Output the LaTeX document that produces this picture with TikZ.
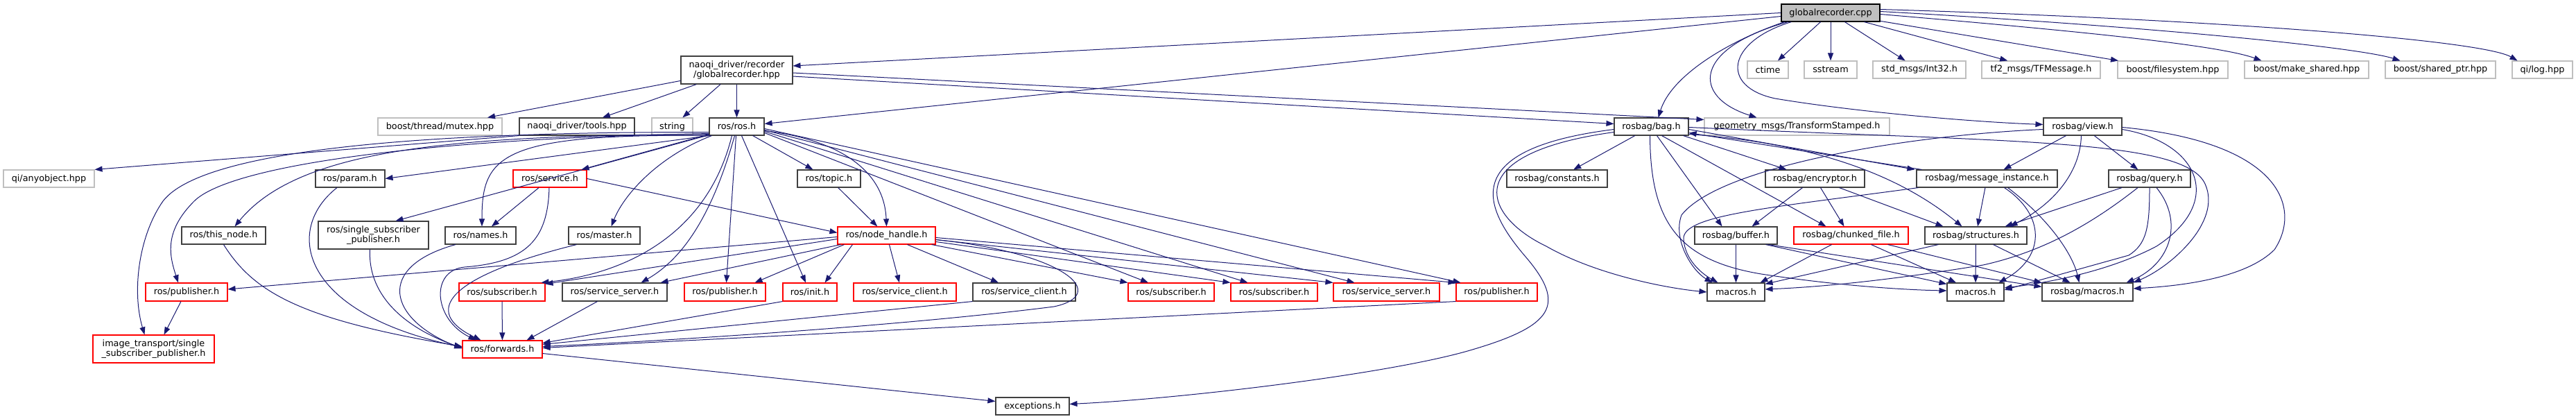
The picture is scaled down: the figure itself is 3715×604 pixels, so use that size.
\documentclass[tikz,border=0pt]{standalone}
\usepackage{fontspec}
\setmainfont{DejaVu Sans}
\usetikzlibrary{arrows.meta}
\definecolor{edgecol}{HTML}{191970}
\definecolor{blkcol}{HTML}{404040}
\definecolor{grycol}{HTML}{BFBFBF}
\definecolor{redcol}{HTML}{FF0000}
\newcommand{\mynode}[7]{\node[#6, minimum width={(#4-#2)*1pt}, minimum height={(#5-#3)*1pt}] (#1) at ({(#2+#4)/2},{(#3+#5)/2}) {#7};}
\tikzset{
  nbase/.style={rectangle, inner sep=0pt, align=center, fill=white, line width=1.1pt, font=\fontsize{12.8}{13.8}\selectfont},
  blk/.style={nbase, draw=blkcol},
  gry/.style={nbase, draw=grycol},
  redb/.style={nbase, draw=redcol},
  rootbox/.style={nbase, draw=black, fill=grycol},
  dep/.style={draw=edgecol, line width=1pt, -{Triangle[length=11pt,width=8pt]}, fill=none}
}
\begin{document}
\begin{tikzpicture}[x=1pt,y=-1pt]
\useasboundingbox (0,0) rectangle (3715,604);
% row 0/1
\mynode{cpp}{2569}{6}{2711}{31}{rootbox}{globalrecorder.cpp}
\mynode{hpp}{982}{81}{1143}{121}{blk}{naoqi\_driver/recorder\\/globalrecorder.hpp}
\mynode{ctime}{2520}{88}{2579}{113}{gry}{ctime}
\mynode{sstream}{2602}{88}{2678}{113}{gry}{sstream}
\mynode{int32}{2701}{88}{2835}{113}{gry}{std\_msgs/Int32.h}
\mynode{tfmsg}{2858}{88}{3029}{113}{gry}{tf2\_msgs/TFMessage.h}
\mynode{fs}{3054}{88}{3213}{113}{gry}{boost/filesystem.hpp}
\mynode{mks}{3237}{88}{3416}{113}{gry}{boost/make\_shared.hpp}
\mynode{shp}{3440}{88}{3599}{113}{gry}{boost/shared\_ptr.hpp}
\mynode{qilog}{3623}{88}{3710}{113}{gry}{qi/log.hpp}
% row 2
\mynode{mutex}{545}{170}{724}{195}{gry}{boost/thread/mutex.hpp}
\mynode{tools}{749}{170}{915}{195}{blk}{naoqi\_driver/tools.hpp}
\mynode{string}{940}{170}{999}{195}{gry}{string}
\mynode{rosh}{1023}{170}{1102}{195}{blk}{ros/ros.h}
\mynode{bag}{2328}{170}{2435}{195}{blk}{rosbag/bag.h}
\mynode{geom}{2458}{170}{2725}{195}{gry}{geometry\_msgs/TransformStamped.h}
\mynode{view}{2947}{170}{3060}{195}{blk}{rosbag/view.h}
% row 3
\mynode{qiany}{5}{245}{136}{270}{gry}{qi/anyobject.hpp}
\mynode{param}{455}{245}{555}{270}{blk}{ros/param.h}
\mynode{service}{740}{245}{846}{270}{redb}{ros/service.h}
\mynode{topic}{1150}{245}{1241}{270}{blk}{ros/topic.h}
\mynode{const}{2173}{245}{2318}{270}{blk}{rosbag/constants.h}
\mynode{encr}{2546}{245}{2689}{270}{blk}{rosbag/encryptor.h}
\mynode{msgi}{2764}{245}{2967}{270}{blk}{rosbag/message\_instance.h}
\mynode{query}{3041}{245}{3159}{270}{blk}{rosbag/query.h}
% row 4
\mynode{thisn}{262}{327}{383}{352}{blk}{ros/this\_node.h}
\mynode{ssp}{459}{319}{618}{359}{blk}{ros/single\_subscriber\\\_publisher.h}
\mynode{names}{642}{327}{744}{352}{blk}{ros/names.h}
\mynode{master}{820}{327}{923}{352}{blk}{ros/master.h}
\mynode{nh}{1208}{327}{1349}{352}{redb}{ros/node\_handle.h}
\mynode{buffer}{2444}{327}{2563}{352}{blk}{rosbag/buffer.h}
\mynode{chunk}{2587}{327}{2752}{352}{redb}{rosbag/chunked\_file.h}
\mynode{struct}{2776}{327}{2923}{352}{blk}{rosbag/structures.h}
% row 5
\mynode{pubL}{210}{408}{328}{434}{redb}{ros/publisher.h}
\mynode{sub1}{662}{408}{786}{434}{redb}{ros/subscriber.h}
\mynode{ssrv1}{811}{408}{962}{434}{blk}{ros/service\_server.h}
\mynode{pub1}{987}{408}{1104}{434}{redb}{ros/publisher.h}
\mynode{init}{1129}{408}{1207}{434}{redb}{ros/init.h}
\mynode{scl1}{1231}{408}{1379}{434}{redb}{ros/service\_client.h}
\mynode{scl2}{1403}{408}{1551}{434}{blk}{ros/service\_client.h}
\mynode{sub2}{1627}{408}{1751}{434}{redb}{ros/subscriber.h}
\mynode{sub3}{1775}{408}{1900}{434}{redb}{ros/subscriber.h}
\mynode{ssrv2}{1923}{408}{2076}{434}{redb}{ros/service\_server.h}
\mynode{pub2}{2100}{408}{2217}{434}{redb}{ros/publisher.h}
\mynode{mac1}{2462}{408}{2545}{434}{blk}{macros.h}
\mynode{mac2}{2808}{408}{2890}{434}{blk}{macros.h}
\mynode{rbmac}{2945}{408}{3076}{434}{blk}{rosbag/macros.h}
% row 6/7
\mynode{imgtr}{134}{483}{309}{523}{redb}{image\_transport/single\\\_subscriber\_publisher.h}
\mynode{fwd}{667}{491}{782}{516}{redb}{ros/forwards.h}
\mynode{exc}{1436}{573}{1542}{598}{blk}{exceptions.h}

% ---------- edges from globalrecorder.cpp
\draw[dep] (cpp.west) -- ([yshift=6pt]hpp.east);
\draw[dep] ([yshift=-5pt]cpp.west) -- ([yshift=4pt]rosh.east);
\draw[dep] ([xshift=5pt]cpp.south west) .. controls (2490,60) and (2410,110) .. ([xshift=10pt]bag.north);
\draw[dep] ([xshift=10pt]cpp.south west) .. controls (2440,70) and (2440,140) .. ([xshift=-58pt]geom.north);
\draw[dep] ([xshift=15pt]cpp.south west) .. controls (2490,60) and (2480,125) .. (2560,142) .. controls (2680,162) and (2850,176) .. ([yshift=3pt]view.west);
\draw[dep] (cpp) -- (ctime);
\draw[dep] (cpp) -- (sstream);
\draw[dep] (cpp) -- (int32);
\draw[dep] (cpp) -- (tfmsg);
\draw[dep] (cpp) -- (fs);
\draw[dep] ([yshift=-2pt]cpp.east) .. controls (3000,45) and (3200,65) .. ([xshift=-65pt]mks.north);
\draw[dep] ([yshift=2pt]cpp.east) .. controls (3100,38) and (3400,68) .. ([xshift=-58pt]shp.north);
\draw[dep] ([yshift=5pt]cpp.east) .. controls (3200,28) and (3580,58) .. ([xshift=-36pt]qilog.north);
% ---------- edges from globalrecorder.hpp
\draw[dep] (hpp) -- (mutex);
\draw[dep] (hpp) -- (tools);
\draw[dep] (hpp) -- (string);
\draw[dep] (hpp) -- (rosh);
\draw[dep] ([yshift=-4pt]hpp.east) -- ([yshift=10pt]geom.west);
\draw[dep] ([yshift=-9pt]hpp.east) -- ([yshift=4pt]bag.west);
% ---------- tools
\draw[dep] (tools.south west) -- (qiany.north east);
% ---------- ros/ros.h
\draw[dep] (rosh.south west) -- (param.east);
\draw[dep] ([yshift=2pt]rosh.south west) .. controls (650,195) and (430,215) .. ([xshift=16pt]thisn.north);
\draw[dep] ([yshift=3pt]rosh.south west) .. controls (600,200) and (330,240) .. (280,290) .. controls (235,335) and (245,370) .. ([xshift=-12pt]pubL.north);
\draw[dep] ([yshift=5pt]rosh.south west) .. controls (700,190) and (300,205) .. (235,290) .. controls (200,340) and (190,420) .. ([xshift=-13pt]imgtr.north);
\draw[dep] ([yshift=1pt]rosh.south west) -- ([xshift=32pt]ssp.north);
\draw[dep] ([xshift=2pt]rosh.south west) .. controls (720,192) and (695,225) .. ([xshift=2pt]names.north);
\draw[dep] (rosh) -- ([xshift=-8pt]service.north east);
\draw[dep] ([xshift=4pt]rosh.south west) .. controls (950,225) and (900,280) .. ([xshift=10pt]master.north);
\draw[dep] ([xshift=-7pt]rosh.south) .. controls (1020,340) and (900,395) .. ([xshift=-6pt]sub1.north east);
\draw[dep] ([xshift=-3pt]rosh.south) .. controls (1030,300) and (990,370) .. ([xshift=38pt]ssrv1.north);
\draw[dep] ([xshift=-1pt]rosh.south) -- ([xshift=2pt]pub1.north);
\draw[dep] ([xshift=7pt]rosh.south) -- ([xshift=-6pt]init.north);
\draw[dep] (rosh) -- (topic);
\draw[dep] ([yshift=-6pt]rosh.east) .. controls (1200,200) and (1275,240) .. (nh.north);
\draw[dep] ([yshift=-9pt]rosh.east) -- ([xshift=-33pt]sub2.north);
\draw[dep] ([yshift=-7pt]rosh.east) -- ([xshift=-38pt]sub3.north);
\draw[dep] ([yshift=-5pt]rosh.east) -- ([xshift=-46pt]ssrv2.north);
\draw[dep] ([yshift=-3pt]rosh.east) -- ([xshift=-52pt]pub2.north);
% ---------- service, topic
\draw[dep] (service) -- (names);
\draw[dep] (service.east) -- ([yshift=4pt]nh.west);
\draw[dep] (topic) -- (nh);
% ---------- node_handle
\draw[dep] ([yshift=-2pt]nh.west) -- ([yshift=4pt]pubL.east);
\draw[dep] ([yshift=-5pt]nh.west) -- ([yshift=-2pt]sub1.north east);
\draw[dep] ([xshift=5pt]nh.south west) -- ([xshift=-10pt]ssrv1.north east);
\draw[dep] ([xshift=10pt]nh.south west) -- ([xshift=-16pt]pub1.north east);
\draw[dep] ([xshift=22pt]nh.south west) -- ([xshift=-18pt]init.north east);
\draw[dep] ([xshift=75pt]nh.south west) -- ([xshift=-8pt]scl1.north);
\draw[dep] ([xshift=101pt]nh.south west) -- ([xshift=-37pt]scl2.north);
\draw[dep] ([xshift=-6pt]nh.south east) -- (sub2.north west);
\draw[dep] ([yshift=-9pt]nh.east) -- (sub3.north west);
\draw[dep] ([yshift=-6pt]nh.east) -- (ssrv2.north west);
\draw[dep] ([yshift=-3pt]nh.east) -- (pub2.north west);
\draw[dep] ([yshift=-6pt]nh.east) .. controls (1540,365) and (1600,425) .. (1520,442) .. controls (1300,470) and (950,492) .. ([yshift=4pt]fwd.east);
% ---------- into ros/forwards.h
\draw[dep] (thisn.south) .. controls (365,420) and (430,460) .. ([yshift=4pt]fwd.west);
\draw[dep] ([xshift=-19pt]param.south) .. controls (410,330) and (430,450) .. ([yshift=3pt]fwd.west);
\draw[dep] ([xshift=-5pt]ssp.south) .. controls (530,430) and (590,475) .. ([yshift=2pt]fwd.west);
\draw[dep] ([xshift=-36pt]names.south) .. controls (540,385) and (560,460) .. ([yshift=1pt]fwd.west);
\draw[dep] ([xshift=-1pt]service.south) .. controls (790,345) and (760,378) .. (670,385) .. controls (620,390) and (625,460) .. ([xshift=20pt]fwd.north west);
\draw[dep] ([xshift=-40pt]master.south) .. controls (640,400) and (610,450) .. ([xshift=27pt]fwd.north west);
\draw[dep] (sub1) -- (fwd);
\draw[dep] ([xshift=-25pt]ssrv1.south) -- ([xshift=-23pt]fwd.north east);
\draw[dep] (init.south west) -- ([yshift=9pt]fwd.east);
\draw[dep] (scl2.south west) -- ([yshift=7pt]fwd.east);
\draw[dep] (pub2.south west) -- ([yshift=2pt]fwd.east);
\draw[dep] ([yshift=-6pt]fwd.east) -- ([yshift=7pt]exc.west);
\draw[dep] ([xshift=-8pt]pubL.south) -- ([xshift=15pt]imgtr.north);
% ---------- rosbag/bag.h
\draw[dep] ([yshift=-4pt]bag.west) .. controls (2100,215) and (2140,300) .. (2200,370) .. controls (2260,440) and (2240,470) .. (2120,505) .. controls (2000,540) and (1700,575) .. ([yshift=3pt]exc.east);
\draw[dep] ([yshift=-8pt]bag.west) .. controls (2100,222) and (2140,312) .. (2230,355) .. controls (2300,395) and (2400,415) .. (mac1.west);
\draw[dep] (bag) -- (const);
\draw[dep] ([xshift=8pt]bag.south) -- ([xshift=-20pt]buffer.north);
\draw[dep] ([xshift=-2pt]bag.south) .. controls (2380,320) and (2420,375) .. (2540,395) .. controls (2650,412) and (2750,418) .. ([yshift=2pt]mac2.west);
\draw[dep] ([xshift=15pt]bag.south) -- ([xshift=-36pt]chunk.north);
\draw[dep] ([xshift=-8pt]bag.south east) -- ([xshift=-41pt]encr.north);
\draw[dep] ([yshift=-4pt]bag.east) -- ([xshift=-2pt]msgi.north west);
\draw[dep] ([yshift=-11pt]bag.east) .. controls (2600,205) and (2730,245) .. ([xshift=-20pt]struct.north);
\draw[dep] ([yshift=-1pt]bag.east) .. controls (2900,205) and (3150,200) .. (3180,265) .. controls (3205,320) and (3130,385) .. (rbmac.north east);
% ---------- rosbag/message_instance.h
\draw[dep] ([xshift=8pt]msgi.north west) -- ([yshift=-9pt]bag.east);
\draw[dep] (msgi) -- (struct);
\draw[dep] ([xshift=3pt]msgi.south west) .. controls (2550,300) and (2425,310) .. (2428,345) .. controls (2430,375) and (2455,395) .. ([xshift=-26pt]mac1.north);
\draw[dep] ([xshift=-77pt]msgi.south east) .. controls (2950,310) and (2950,370) .. ([xshift=-8pt]mac2.north east);
\draw[dep] ([xshift=-72pt]msgi.south east) .. controls (2960,320) and (2990,370) .. ([xshift=-12pt]rbmac.north);
% ---------- rosbag/view.h
\draw[dep] (view) -- (msgi);
\draw[dep] (view) -- (query);
\draw[dep] ([xshift=-2pt]view.south) .. controls (3000,250) and (2960,295) .. ([xshift=-25pt]struct.north east);
\draw[dep] ([yshift=-4pt]view.west) .. controls (2750,195) and (2480,240) .. (2425,310) .. controls (2412,345) and (2440,390) .. ([xshift=-34pt]mac1.north);
\draw[dep] ([yshift=-4pt]view.east) .. controls (3170,205) and (3210,290) .. (3110,355) .. controls (3040,392) and (2950,408) .. ([yshift=6pt]mac2.east);
\draw[dep] ([yshift=-1pt]view.east) .. controls (3290,205) and (3320,300) .. (3280,360) .. controls (3240,400) and (3150,412) .. ([yshift=5pt]rbmac.east);
% ---------- rosbag/query.h
\draw[dep] ([xshift=-40pt]query.south) -- ([xshift=-32pt]struct.north east);
\draw[dep] ([xshift=-17pt]query.south) .. controls (3020,320) and (2950,362) .. (2860,382) .. controls (2720,405) and (2620,414) .. ([yshift=4pt]mac1.east);
\draw[dep] (query.south) .. controls (3100,330) and (3095,352) .. (3070,368) -- ([yshift=3pt]mac2.east);
\draw[dep] ([xshift=10pt]query.south) .. controls (3150,320) and (3130,380) .. ([xshift=-10pt]rbmac.north east);
% ---------- rosbag/encryptor.h
\draw[dep] ([xshift=-18pt]encr.south) -- ([xshift=23pt]buffer.north);
\draw[dep] ([xshift=8pt]encr.south) -- ([xshift=-10pt]chunk.north);
\draw[dep] ([xshift=35pt]encr.south) -- ([xshift=-47pt]struct.north);
% ---------- rosbag/buffer.h
\draw[dep] (buffer) -- (mac1);
\draw[dep] ([xshift=-17pt]buffer.south east) -- ([yshift=-2pt]mac2.north west);
\draw[dep] ([xshift=-13pt]buffer.south east) -- ([yshift=-6pt]rbmac.north west);
% ---------- rosbag/chunked_file.h
\draw[dep] ([xshift=-28pt]chunk.south) -- ([xshift=-7pt]mac1.north east);
\draw[dep] ([xshift=29pt]chunk.south) -- ([xshift=-28pt]mac2.north);
\draw[dep] ([xshift=-30pt]chunk.south east) -- (rbmac.north west);
% ---------- rosbag/structures.h
\draw[dep] ([xshift=-54pt]struct.south) -- ([yshift=-2pt]mac1.north east);
\draw[dep] (struct) -- (mac2);
\draw[dep] ([xshift=25pt]struct.south) -- ([xshift=-25pt]rbmac.north);
\end{tikzpicture}
\end{document}
